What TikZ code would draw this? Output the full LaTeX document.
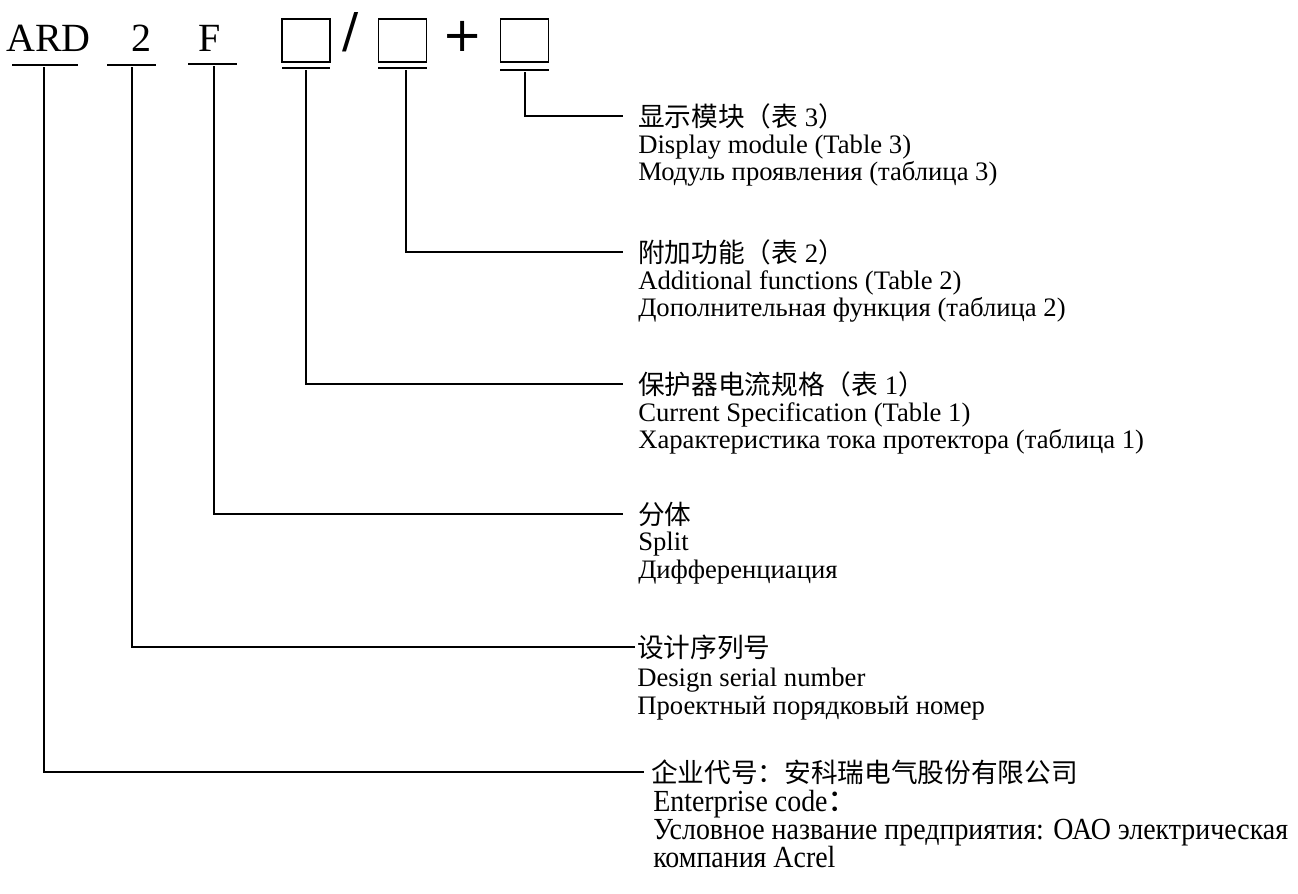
\documentclass[tikz,border=0pt]{standalone}
\usepackage{fontspec}
\setmainfont{Liberation Serif}
\newfontfamily\cjk{Noto Sans CJK SC}
\newfontfamily\narrowserif{Liberation Serif}[FakeStretch=0.91]
\newfontfamily\symfont{DejaVu Sans}
\tikzset{
  code/.style={anchor=base, inner sep=0pt, font=\fontsize{30}{36}\selectfont},
  sym/.style={anchor=base, inner sep=0pt, font=\symfont\fontsize{36}{40}\selectfont},
  slot/.style={draw, line width=1.4pt, minimum width=36pt, minimum height=32pt, inner sep=0pt},
  uline/.style={line width=1.6pt},
  lead/.style={line width=1.2pt},
  cnlbl/.style={anchor=west, inner sep=0pt, font=\cjk\fontsize{20}{22}\selectfont},
  txt/.style={anchor=base west, inner sep=0pt, font=\fontsize{20}{24}\selectfont},
  ntxt/.style={anchor=base west, inner sep=0pt, font=\narrowserif\fontsize{23}{26}\selectfont},
}
\begin{document}
\begin{tikzpicture}[x=0.75pt,y=-0.75pt]
\useasboundingbox (0,0) rectangle (1298,893);
\node[code] (ard) at (48.5,51) {ARD};
\node[code] (two) at (141,51) {2};
\node[code] (ff) at (210,51) {F};
\node[slot] (b1) at (306,40.5) {};
\node[sym] (slash) at (350.5,47.5) {/};
\node[slot] (b2) at (402.5,40.5) {};
\node[sym] (plus) at (463,51) {+};
\node[slot] (b3) at (524.5,40.5) {};
%%
\draw[uline] (12,65) -- (78,65);
\draw[uline] (107,65) -- (156,65);
\draw[uline] (188,64) -- (237,64);
\draw[uline] (282,68) -- (330,68);
\draw[uline] (378,68) -- (427,68);
\draw[uline] (500,70) -- (549,70);
\coordinate (s0) at (44,67);
\coordinate (s1) at (132,67);
\coordinate (s2) at (214,66);
\coordinate (s3) at (306,70);
\coordinate (s4) at (406,70);
\coordinate (s5) at (525,72);
%%
\node[cnlbl] (cn5) at (638,116) {显示模块（表{\rmfamily\ 3}）};
\node[txt] (en5) at (638,153) {Display module (Table 3)};
\node[txt] (ru5) at (638,180) {Модуль проявления (таблица 3)};
\draw[lead] (s5) |- ([xshift=-11.25pt]cn5.west);
%%
\node[cnlbl] (cn4) at (638,252) {附加功能（表{\rmfamily\ 2}）};
\node[txt] (en4) at (638,289) {Additional functions (Table 2)};
\node[txt] (ru4) at (638,316) {Дополнительная функция (таблица 2)};
\draw[lead] (s4) |- ([xshift=-11.25pt]cn4.west);
%%
\node[cnlbl] (cn3) at (638,384) {保护器电流规格（表{\rmfamily\ 1}）};
\node[txt] (en3) at (638,421) {Current Specification (Table 1)};
\node[txt] (ru3) at (638,448) {Характеристика тока протектора (таблица 1)};
\draw[lead] (s3) |- ([xshift=-11.25pt]cn3.west);
%%
\node[cnlbl] (cn2) at (638,514) {分体};
\node[txt] (en2) at (638,550) {Split};
\node[txt] (ru2) at (638,578) {Дифференциация};
\draw[lead] (s2) |- ([xshift=-11.25pt]cn2.west);
%%
\node[cnlbl] (cn1) at (637,647) {设计序列号};
\node[txt] (en1) at (637,686) {Design serial number};
\node[txt] (ru1) at (637,714) {Проектный порядковый номер};
\draw[lead] (s1) |- ([xshift=-1.5pt]cn1.west);
%%
\node[cnlbl] (cn0) at (651,772) {企业代号：安科瑞电气股份有限公司};
\node[ntxt] (en0) at (653,811) {Enterprise code{\cjk ：}};
\node[ntxt] (ru0) at (653,839) {Условное название предприятия: ОАО электрическая};
\node[ntxt] (ru0b) at (653,867) {компания Acrel};
\draw[lead] (s0) |- ([xshift=-5.25pt]cn0.west);
\end{tikzpicture}
\end{document}
